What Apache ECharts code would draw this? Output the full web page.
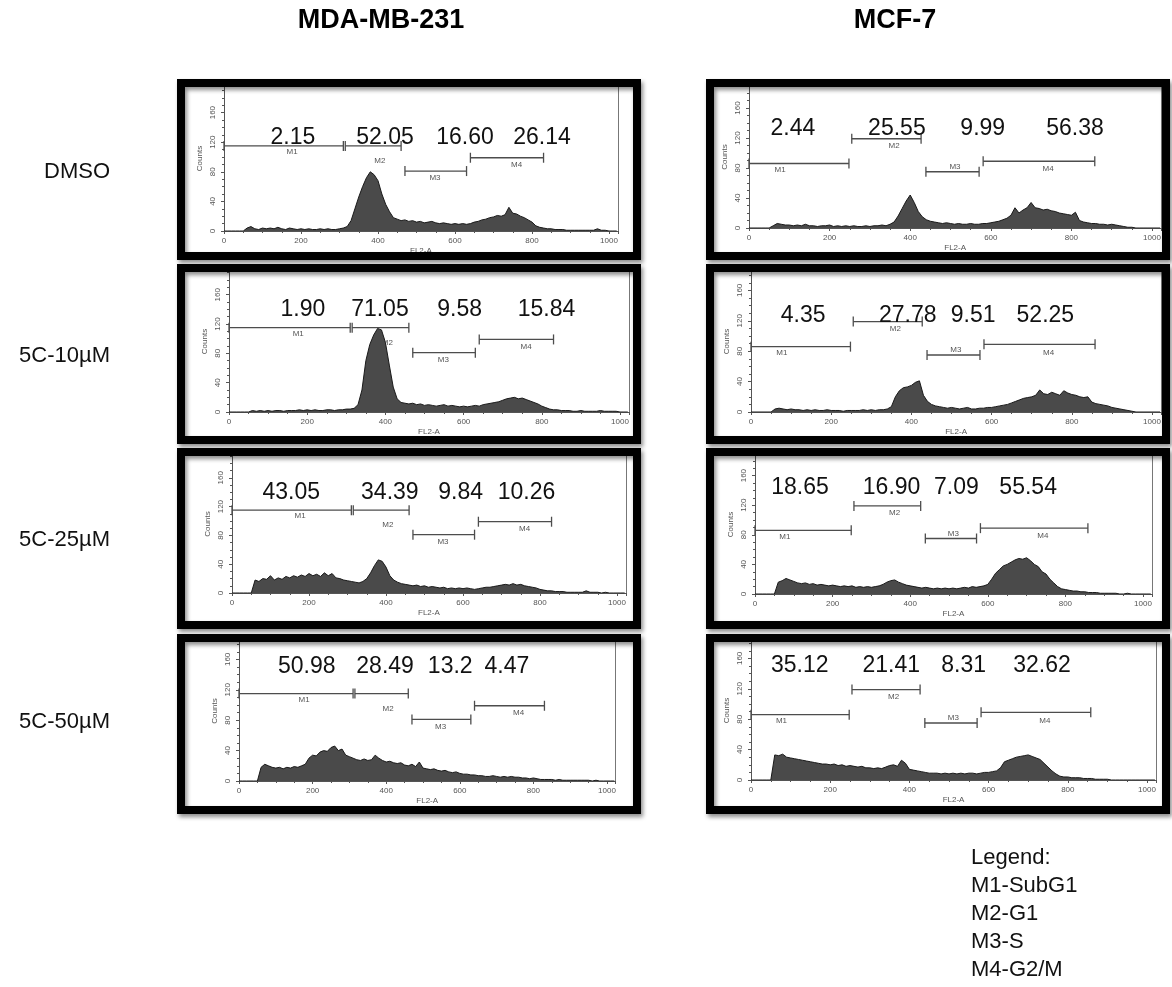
<!DOCTYPE html>
<html><head><meta charset="utf-8">
<script src="https://cdn.jsdelivr.net/npm/echarts@6/dist/echarts.min.js"></script>
<style>html,body{margin:0;padding:0;background:#fff}#c{width:1172px;height:987px}</style>
</head><body><div id="c"></div>
<script>
// ---------------- DATA ----------------
const cellLines = ['MDA-MB-231', 'MCF-7'];
const treatments = ['DMSO', '5C-10µM', '5C-25µM', '5C-50µM'];
const gateNames = ['M1', 'M2', 'M3', 'M4'];
const legendLines = ['Legend:', 'M1-SubG1', 'M2-G1', 'M3-S', 'M4-G2/M'];

// FL2-A channel bins
const channels = [0,10,20,30,40,50,60,70,80,90,
  100,110,120,130,140,150,160,170,180,190,
  200,210,220,230,240,250,260,270,280,290,
  300,310,320,330,340,350,360,370,380,390,
  400,410,420,430,440,450,460,470,480,490,
  500,510,520,530,540,550,560,570,580,590,
  600,610,620,630,640,650,660,670,680,690,
  700,710,720,730,740,750,760,770,780,790,
  800,810,820,830,840,850,860,870,880,890,
  900,910,920,930,940,950,960,970,980,990,
  1000,1010,1020];

// counts, MDA-MB-231
const mdaDmso = [0,0,0,0,0,0,4,6,3,2, 4,3,4,3,5,3,2,4,3,2, 3,2,3,2,2,3,2,3,2,2,
  3,4,6,14,30,46,60,72,80,76, 68,50,36,26,18,16,14,15,13,14, 12,13,11,12,13,11,10,11,10,9,
  10,9,10,9,10,12,13,15,16,18, 19,21,20,22,32,24,23,20,18,15, 12,7,5,4,3,3,2,2,2,1,
  1,1,1,1,1,1,1,3,1,1, 0,0,0];
const mda10 = [0,0,0,0,0,0,2,1,2,1, 2,1,2,2,1,2,2,2,3,2, 3,2,3,2,2,3,3,2,3,3,
  4,4,5,10,30,70,92,105,114,112, 95,64,34,18,13,12,11,12,10,11, 9,10,9,8,9,10,8,9,8,7,
  8,7,8,9,8,10,11,12,13,14, 16,18,19,20,18,19,17,15,13,11, 8,6,4,3,3,2,2,2,1,1,
  2,1,1,1,1,2,1,1,1,1, 0,0,0];
const mda25 = [0,0,0,0,0,0,18,16,20,19, 24,18,21,19,23,21,24,22,25,23, 27,24,26,23,28,24,27,21,20,18,
  17,16,15,14,16,20,28,38,46,44, 36,24,18,15,13,12,11,10,11,9, 10,8,9,8,7,8,6,7,6,7,
  6,7,6,5,6,7,8,8,9,10, 11,12,11,13,11,12,10,9,8,7, 5,4,3,3,2,2,2,1,1,1,
  1,1,3,1,1,1,0,1,0,0, 0,0,0];
const mda50 = [0,0,0,0,0,0,18,22,20,18, 17,18,16,18,17,19,18,20,22,30, 34,33,38,40,39,44,46,40,42,34,
  32,30,28,27,29,27,28,34,30,27, 25,26,24,23,24,21,20,22,19,25, 17,16,15,16,14,13,14,12,11,12,
  10,9,9,8,8,7,7,6,6,7, 6,5,6,5,6,5,5,4,4,3, 4,3,2,2,2,2,1,2,1,1,
  1,1,1,1,1,1,0,1,0,0, 0,0,0];

// counts, MCF-7
const mcfDmso = [0,0,0,0,0,0,3,6,5,4, 4,3,4,3,5,3,3,2,3,3, 4,2,3,2,3,2,3,2,2,3,
  2,3,3,4,3,5,8,16,26,36, 44,34,22,15,11,9,8,7,6,7, 6,5,6,5,5,6,5,5,6,6,
  7,8,9,11,13,17,27,20,24,27, 34,27,26,24,25,23,22,20,19,18, 17,21,10,8,7,6,6,5,5,4,
  5,4,3,2,1,1,0,0,0,0, 0,0,0];
const mcf10 = [0,0,0,0,0,0,4,5,4,3, 4,3,3,2,3,2,3,2,2,3, 2,2,2,1,2,2,2,2,3,2,
  3,2,3,3,4,7,20,28,32,33, 35,39,41,22,14,10,8,7,6,5, 6,5,4,5,6,4,4,5,5,6,
  6,7,8,9,10,12,14,16,18,19, 20,22,29,24,23,26,24,22,28,25, 23,22,20,19,20,13,11,10,9,8,
  6,5,4,3,2,1,0,0,0,0, 0,0,0];
const mcf25 = [0,0,0,0,0,0,16,18,21,19, 17,15,14,15,13,14,12,13,12,11, 12,11,10,11,10,11,9,10,9,10,
  9,10,11,13,16,18,19,16,14,12, 11,10,9,8,9,8,7,8,7,8, 7,8,7,8,9,8,10,9,10,11,
  13,20,28,33,38,40,43,46,48,47, 49,45,40,37,30,27,20,15,10,7, 6,5,4,4,3,3,2,2,2,1,
  1,1,1,1,0,0,1,0,0,0, 0,0,0];
const mcf50 = [0,0,0,0,0,0,33,32,34,30, 29,28,27,26,25,24,23,22,21,21, 20,21,19,20,18,19,18,17,18,16,
  16,15,16,15,17,19,20,18,26,22, 14,13,12,11,10,9,9,9,8,9, 8,9,8,9,8,9,9,8,9,10,
  10,11,12,16,24,26,28,30,31,32, 33,31,29,27,22,17,12,8,5,4, 4,3,3,3,2,2,2,1,1,1,
  1,0,0,0,0,0,0,0,0,0, 0,0,0];

// marker gates [start, end, level]
const mdaGates = [[0,310,115],[315,460,115],[470,630,81],[640,830,99]];
const mcfGates = [[0,248,86],[255,427,119],[439,571,75],[581,858,89]];

// percentages per panel (M1..M4)
const mdaPct = [['2.15','52.05','16.60','26.14'],['1.90','71.05','9.58','15.84'],['43.05','34.39','9.84','10.26'],['50.98','28.49','13.2','4.47']];
const mcfPct = [['2.44','25.55','9.99','56.38'],['4.35','27.78','9.51','52.25'],['18.65','16.90','7.09','55.54'],['35.12','21.41','8.31','32.62']];

// ---------------- LAYOUT ----------------
const FONT = "'Liberation Sans', Arial, sans-serif";
const frameLeft = [177, 706];
const frameW = 464;
const frameTop = [79, 264, 448, 634];
const frameH = [181, 180, 181, 180];
const plotX0 = [[224,229,232,239],[749,751,755,751]];
const plotX1000 = [[609,620,617,607],[1152,1152,1143,1147]];
const plotY0 = [[231,412,593,781],[228,412,594,780]];
const pxPerCount = [[0.74,0.733,0.72,0.76],[0.75,0.76,0.74,0.76]];
const pctY = [[126,139,139,151],[133,127,144,151]];
const pctX = [[[179,418,626,826],[189,386,590,812],[154,410,594,765],[184,397,574,728]],
              [[109,367,580,809],[130,391,554,734],[116,352,519,704],[123,354,537,735]]];
const gateLabelX = [[177,405,548,760],[77,360,511,742]];
const gateLabelDy = [[6,15,7,7],[6,7,-5,8]];
const rowLabelY = [172, 356, 540, 722];
const headX = [381, 895];

const countsByCol = [[mdaDmso, mda10, mda25, mda50],[mcfDmso, mcf10, mcf25, mcf50]];
const gatesByCol = [mdaGates, mcfGates];
const pctByCol = [mdaPct, mcfPct];

const grids = [], xAxes = [], yAxes = [], series = [], graphics = [];
const axisCol = '#555';
let idx = 0;
for (let c = 0; c < 2; c++) {
  for (let r = 0; r < 4; r++) {
    const x0 = plotX0[c][r], x1 = plotX1000[c][r], y0 = plotY0[c][r], ppu = pxPerCount[c][r];
    const top = frameTop[r] + 7;
    const width = (x1 - x0) * 1.023;
    const ymax = (y0 - top) / ppu;
    grids.push({left: x0, top: top, width: width, height: y0 - top, containLabel: false, outerBoundsMode: 'none'});
    xAxes.push({
      type: 'value', gridIndex: idx, min: 0, max: 1023, interval: 200,
      axisLine: {lineStyle: {color: axisCol, width: 1}},
      axisTick: {length: 3, lineStyle: {color: axisCol}},
      minorTick: {show: true, splitNumber: 4, length: 2, lineStyle: {color: axisCol}},
      splitLine: {show: false},
      axisLabel: {fontSize: 8, color: '#555', margin: 6, fontFamily: FONT, showMaxLabel: false,
        formatter: v => (v % 200 === 0 ? String(v) : '')},
      name: 'FL2-A', nameLocation: 'middle', nameGap: 16,
      nameTextStyle: {fontSize: 8, color: '#555', fontFamily: FONT}
    });
    yAxes.push({
      type: 'value', gridIndex: idx, min: 0, max: ymax, interval: 40,
      axisLine: {show: true, lineStyle: {color: axisCol, width: 1}},
      axisTick: {show: true, length: 3, lineStyle: {color: axisCol}},
      minorTick: {show: true, splitNumber: 4, length: 2, lineStyle: {color: axisCol}},
      splitLine: {show: false},
      axisLabel: {fontSize: 8, color: '#555', margin: 7, rotate: 90, fontFamily: FONT, showMaxLabel: false,
        formatter: v => (v % 40 === 0 ? String(v) : '')},
      name: 'Counts', nameLocation: 'middle', nameRotate: 90, nameGap: 20,
      nameTextStyle: {fontSize: 8, color: '#555', fontFamily: FONT}
    });
    const cnt = countsByCol[c][r];
    series.push({
      type: 'line', xAxisIndex: idx, yAxisIndex: idx, animation: false, silent: true,
      data: channels.map((ch, k) => [ch, cnt[k]]),
      symbol: 'none', lineStyle: {color: '#1a1a1a', width: 1},
      areaStyle: {color: '#4a4a4a', opacity: 1},
      markLine: {silent: true, symbol: 'none', label: {show: false}, animation: false,
        lineStyle: {color: '#777', width: 1, type: 'solid'}, data: [{xAxis: 1023}]}
    });
    const gates = gatesByCol[c];
    const lx = gateLabelX[c], dy = gateLabelDy[c];
    series.push({
      type: 'custom', xAxisIndex: idx, yAxisIndex: idx, animation: false, silent: true,
      data: gates.map((g, k) => [g[0], g[1], g[2], lx[k]]),
      encode: {x: [0, 1, 3], y: 2},
      renderItem: (params, api) => {
        const a = api.coord([api.value(0), api.value(2)]);
        const b = api.coord([api.value(1), api.value(2)]);
        const tx = api.coord([api.value(3), api.value(2)])[0];
        const k = params.dataIndex;
        const h = 5, col = '#4d4d4d', lw = 1.3;
        return {type: 'group', children: [
          {type: 'line', shape: {x1: a[0], y1: a[1], x2: b[0], y2: b[1]}, style: {stroke: col, lineWidth: lw}},
          {type: 'line', shape: {x1: a[0], y1: a[1] - h, x2: a[0], y2: a[1] + h}, style: {stroke: col, lineWidth: lw}},
          {type: 'line', shape: {x1: b[0], y1: b[1] - h, x2: b[0], y2: b[1] + h}, style: {stroke: col, lineWidth: lw}},
          {type: 'text', x: tx, y: a[1] + dy[k], style: {text: gateNames[k], fill: '#555', fontSize: 8,
            fontFamily: FONT, align: 'center', verticalAlign: 'middle'}}
        ]};
      }
    });
    const pv = pctByCol[c][r], px = pctX[c][r], py = pctY[c][r];
    series.push({
      type: 'custom', xAxisIndex: idx, yAxisIndex: idx, animation: false, silent: true, z: 10,
      data: px.map((x, k) => [x, py, k]),
      encode: {x: 0, y: 1},
      renderItem: (params, api) => {
        const p = api.coord([api.value(0), api.value(1)]);
        return {type: 'text', x: p[0], y: p[1], style: {text: pv[params.dataIndex], fill: '#111',
          fontSize: 23, fontFamily: FONT, align: 'center', verticalAlign: 'middle'}};
      }
    });
    idx++;
  }
}

// frames
for (let c = 0; c < 2; c++) {
  for (let r = 0; r < 4; r++) {
    graphics.push({type: 'rect', z: 100,
      shape: {x: frameLeft[c] + 4, y: frameTop[r] + 4, width: frameW - 8, height: frameH[r] - 8},
      style: {fill: 'none', stroke: '#000', lineWidth: 8,
        shadowBlur: 4, shadowColor: 'rgba(0,0,0,0.45)', shadowOffsetX: 2, shadowOffsetY: 3}});
  }
}
// headings
cellLines.forEach((t, c) => graphics.push({type: 'text', z: 100, x: headX[c], y: 21,
  style: {text: t, fontSize: 27, fontWeight: 'bold', fontFamily: FONT, fill: '#000', align: 'center', verticalAlign: 'middle'}}));
// row labels
treatments.forEach((t, r) => graphics.push({type: 'text', z: 100, x: 110, y: rowLabelY[r],
  style: {text: t, fontSize: 22, fontFamily: FONT, fill: '#111', align: 'right', verticalAlign: 'middle'}}));
// legend text
legendLines.forEach((t, k) => graphics.push({type: 'text', z: 100, x: 971, y: 858 + 28 * k,
  style: {text: t, fontSize: 22, fontFamily: FONT, fill: '#111', align: 'left', verticalAlign: 'middle'}}));

const chart = echarts.init(document.getElementById('c'), null, {renderer: 'canvas'});
chart.setOption({
  animation: false,
  backgroundColor: '#fff',
  grid: grids, xAxis: xAxes, yAxis: yAxes, series: series, graphic: graphics
});
</script>
</body></html>
